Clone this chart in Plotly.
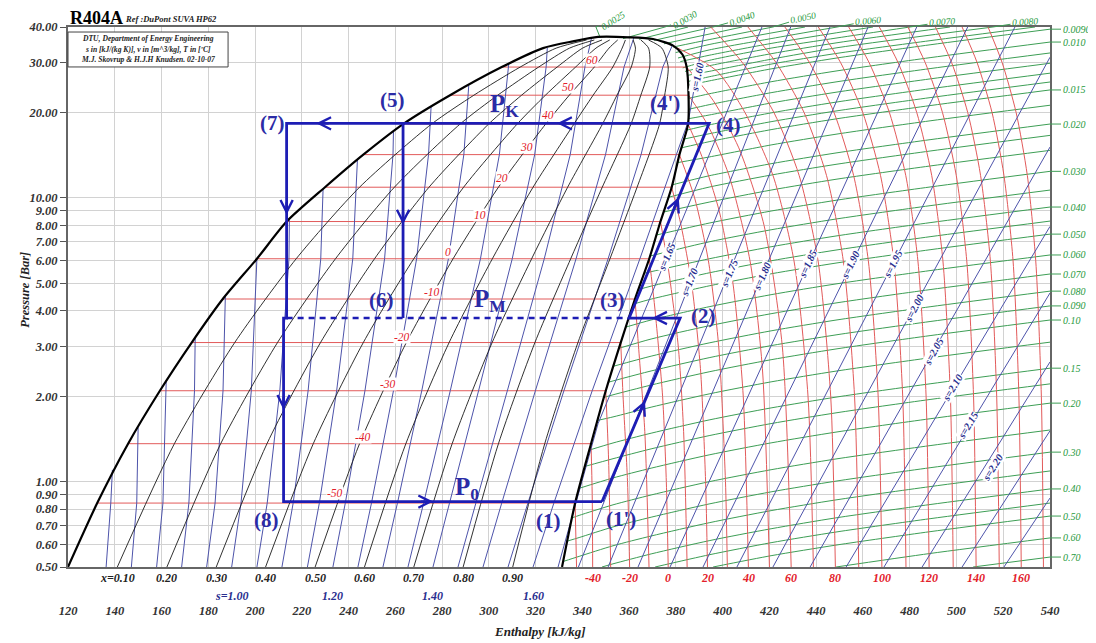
import numpy as np
import plotly.graph_objects as go

SERIF = "Liberation Serif, Times New Roman, serif"

# ---------------- saturation dome ----------------
SAT_T = [-61, -50, -40, -30, -20, -10, 0, 10, 20, 30, 40, 50, 60]
SAT_P = [0.50, 0.84, 1.36, 2.09, 3.09, 4.40, 6.10, 8.25, 10.9, 14.2, 18.2, 23.0, 28.9]
SAT_HL = [120.0, 132.5, 145.7, 159.3, 172.9, 186.2, 200.8, 213.5, 229.9, 246.3, 263.3, 283.4, 305.5]
SAT_HV = [331.3, 336.9, 343.7, 350.0, 356.4, 362.5, 368.6, 373.4, 378.2, 381.5, 385.2, 385.4, 384.6]
DOME_TOP_H = [323.2, 336.0, 346.7, 360.0, 370.2, 378.8, 382.8]
DOME_TOP_P = [33.7, 35.6, 36.9, 36.8, 36.3, 34.4, 32.0]

# ---------------- constant quality lines x = 0.1 ... 0.9 ----------------
Q_P = [0.5, 1.36, 3.09, 6.10, 10.9, 18.2, 23.0, 28.9, 33.7, 36.0]
Q_LABELS = ["x=0.10", "0.20", "0.30", "0.40", "0.50", "0.60", "0.70", "0.80", "0.90"]
Q_H = [
    [141.1, 165.5, 191.3, 217.6, 244.7, 275.5, 293.6, 313.4, 328.8, 341.8],
    [162.3, 185.3, 209.6, 234.4, 259.6, 287.7, 303.8, 321.3, 334.5, 345.1],
    [183.4, 205.1, 228.0, 251.1, 274.4, 299.9, 314.0, 329.2, 340.1, 348.4],
    [204.5, 224.9, 246.3, 267.9, 289.2, 312.1, 324.2, 337.1, 345.8, 351.7],
    [225.7, 244.7, 264.7, 284.7, 304.1, 324.3, 334.4, 345.1, 351.4, 355.1],
    [246.8, 264.5, 283.0, 301.5, 318.9, 336.4, 344.6, 353.0, 357.0, 358.4],
    [267.9, 284.3, 301.4, 318.3, 333.7, 348.6, 354.8, 360.9, 362.7, 361.7],
    [289.0, 304.1, 319.7, 335.0, 348.5, 360.8, 365.0, 368.8, 368.3, 365.0],
    [310.2, 323.9, 338.1, 351.8, 363.4, 373.0, 375.2, 376.7, 374.0, 368.3],
]

# ---------------- isotherms in the superheated region ----------------
SH_T = [-50, -40, -30, -20, -10, 0, 10, 20, 30, 40, 50, 60, 70, 80, 90, 100, 110, 120, 130, 140, 150, 160, 170]
SH_H = [
    [336.9, 337.5],
    [343.7, 344.2, 344.4],
    [350.0, 351.2, 352.1],
    [356.4, 357.4, 359.3, 360.2],
    [362.5, 364.0, 366.7, 368.5],
    [368.6, 371.1, 374.3, 375.9, 376.7],
    [373.4, 376.3, 381.0, 383.3, 384.8],
    [378.2, 382.2, 386.7, 390.5, 392.7, 393.5],
    [381.5, 388.0, 393.9, 398.3, 401.2, 402.0],
    [385.2, 391.1, 398.5, 404.4, 408.8, 411.0],
    [385.4, 393.7, 402.7, 411.7, 417.0, 420.0],
    [384.6, 396.0, 406.9, 417.7, 425.5, 429.3],
    [380.5, 397.5, 409.5, 421.5, 430.5, 436.5, 438.8],
    [394.9, 408.4, 421.9, 432.7, 440.8, 446.2, 448.2],
    [410.8, 422.8, 434.8, 444.4, 451.6, 456.4, 458.2],
    [426.6, 437.1, 447.6, 456.0, 462.3, 466.5, 468.1],
    [440.9, 450.4, 459.9, 467.5, 473.2, 477.0, 478.4],
    [453.9, 462.6, 471.3, 478.3, 483.5, 487.0, 488.3],
    [467.0, 475.0, 483.0, 489.4, 494.2, 497.4, 498.6],
    [479.2, 486.6, 494.0, 499.9, 504.4, 507.3, 508.4],
    [491.0, 497.9, 504.8, 510.3, 514.5, 517.2, 518.3],
    [502.4, 508.8, 515.2, 520.3, 524.2, 526.7, 527.7],
    [513.5, 519.5, 525.5, 530.3, 533.9, 536.3, 537.2],
]
SH_P = [
    [0.84, 0.5],
    [1.36, 0.9, 0.5],
    [2.09, 1.2, 0.5],
    [3.09, 2.0, 1.0, 0.5],
    [4.40, 3.0, 1.5, 0.5],
    [6.10, 4.0, 2.0, 1.0, 0.5],
    [8.25, 6.0, 3.0, 1.5, 0.5],
    [10.9, 8.0, 5.0, 2.5, 1.0, 0.5],
    [14.2, 10.0, 6.0, 3.0, 1.0, 0.5],
    [18.2, 14.0, 9.0, 5.0, 2.0, 0.5],
    [23.0, 18.0, 12.0, 6.0, 2.5, 0.5],
    [28.9, 22.0, 15.0, 8.0, 3.0, 0.5],
    [33.8, 28.0, 20.0, 12.0, 6.0, 2.0, 0.5],
] + [[40, 30, 20, 12, 6, 2, 0.5]] * 10

T_LBL = ["-50", "-40", "-30", "-20", "-10", "0", "10", "20", "30", "40", "50", "60"]
T_LBL_H = [234.2, 246.2, 256.9, 262.9, 275.7, 282.5, 296.2, 305.6, 316.3, 325.3, 333.9, 344.1]
T_LBL_P = [0.911, 1.436, 2.21, 3.23, 4.66, 6.44, 8.70, 11.74, 15.1, 19.6, 24.6, 30.6]
T_AXIS = [-40, -20, 0, 20, 40, 60, 80, 100, 120, 140, 160]

# ---------------- isentropes ----------------
S2P_S = [0.75, 0.80, 0.85, 0.90, 0.95, 1.00, 1.05, 1.10, 1.15, 1.20, 1.25, 1.30, 1.35, 1.40, 1.45, 1.50, 1.55, 1.60, 1.65]
S2P_H = [
    [136.3, 138.3, 139.0],
    [147.1, 149.4, 150.0],
    [157.9, 160.6, 162.0],
    [168.6, 171.7, 174.1, 174.4],
    [179.3, 182.9, 186.3, 187.3],
    [190.0, 194.0, 198.4, 200.8],
    [200.8, 205.2, 210.6, 214.5, 214.7],
    [211.5, 216.3, 222.7, 228.1, 229.1],
    [222.4, 227.5, 234.9, 241.8, 243.8],
    [233.3, 238.6, 247.0, 255.4, 259.0, 259.2],
    [244.0, 249.8, 259.2, 269.1, 274.2, 275.3],
    [254.7, 260.9, 271.3, 282.7, 289.3, 291.4],
    [265.4, 272.1, 283.5, 296.4, 304.5, 308.5],
    [276.1, 283.2, 295.6, 310.0, 319.6, 324.5, 325.0],
    [286.8, 294.4, 307.8, 323.7, 334.8, 341.1, 344.0],
    [297.5, 305.5, 319.9, 337.3, 349.9, 357.8, 362.0],
    [308.2, 316.7, 332.1, 351.0, 365.1, 374.4, 378.5],
    [318.9, 327.8, 344.2, 364.6, 380.2, 385.3, 392.5],
    [329.6, 346.7, 416.8],
]
S2P_P = [
    [0.5, 0.84, 1.10],
    [0.5, 0.84, 1.55],
    [0.5, 0.84, 2.25],
    [0.5, 0.84, 2.09, 3.22],
    [0.5, 0.84, 2.09, 4.50],
    [0.5, 0.84, 2.09, 6.10],
    [0.5, 0.84, 2.09, 6.10, 8.40],
    [0.5, 0.84, 2.09, 6.10, 10.75],
    [0.5, 0.84, 2.09, 6.10, 13.7],
    [0.5, 0.84, 2.09, 6.10, 14.2, 17.2],
    [0.5, 0.84, 2.09, 6.10, 14.2, 21.0],
    [0.5, 0.84, 2.09, 6.10, 14.2, 24.9],
    [0.5, 0.84, 2.09, 6.10, 14.2, 29.6],
    [0.5, 0.84, 2.09, 6.10, 14.2, 28.9, 33.8],
    [0.5, 0.84, 2.09, 6.10, 14.2, 28.9, 36.8],
    [0.5, 0.84, 2.09, 6.10, 14.2, 28.9, 36.6],
    [0.5, 0.84, 2.09, 6.10, 14.2, 28.9, 34.5],
    [0.5, 0.84, 2.09, 6.10, 14.2, 18.6, 40.0],
    [0.5, 1.6, 40.0],
]
SSH_S = [1.70, 1.75, 1.80, 1.85, 1.90, 1.95, 2.00, 2.05, 2.10, 2.15, 2.20, 2.25, 2.30]
SSH_H0 = [338.3, 351.0, 363.8, 377.5, 391.6, 406.1, 421.5, 437.4, 452.8, 469.0, 485.3, 502.4, 520.3]
SSH_H1 = [429.1, 445.9, 462.2, 483.0, 504.8, 525.0, 540.0, 540.0, 540.0, 540.0, 540.0, 540.0, 540.0]
SSH_P1 = [40.0, 40.0, 40.0, 40.0, 40.0, 40.0, 31.3, 15.1, 7.93, 4.62, 2.64, 1.51, 0.875]

S_AXIS_TXT = ["s=1.00", "1.20", "1.40", "1.60"]
S_AXIS_S = [1.00, 1.20, 1.40, 1.60]
S_LBL = ["s=1.60", "s=1.65", "s=1.70", "s=1.75", "s=1.80", "s=1.85", "s=1.90",
         "s=1.95", "s=2.00", "s=2.05", "s=2.10", "s=2.15", "s=2.20"]
S_LBL_H = [389.0, 376.2, 385.6, 402.7, 416.8, 436.5, 454.9, 472.9, 481.8, 490.0, 498.5, 504.9, 515.6]
S_LBL_P = [26.65, 6.14, 5.05, 5.43, 5.30, 5.80, 5.80, 5.80, 4.09, 2.86, 2.14, 1.58, 1.12]
S_LBL_ANG = [-78, -67, -68, -67, -66, -65, -64, -63, -62, -61, -59, -59, -58]

# ---------------- isochores ----------------
V_TXT = ["0.70", "0.60", "0.50", "", "0.40", "", "0.30", "", "0.20", "", "0.15", "", "0.10",
         "0.090", "0.080", "0.070", "0.060", "0.050", "", "0.040", "", "0.030", "", "",
         "0.020", "", "0.015", "", "", "", "", "0.010", "0.0090", "",
         "0.0080", "", "0.0070", "", "0.0060", "", "0.0050", "", "0.0040", "", "0.0030", "0.0025"]
V_H = [
    [507.1, 540.0],
    [448.5, 488.7, 540.0],
    [395.9, 420.7, 448.9, 488.7, 540.0],
    [371.1, 394.2, 420.7, 448.9, 488.7, 540.0],
    [348.4, 353.1, 369.4, 394.2, 420.7, 448.9, 488.7, 540.0],
    [331.8, 338.6, 353.1, 369.4, 394.2, 420.7, 448.9, 488.7, 540.0],
    [333.6, 338.6, 353.1, 369.4, 394.2, 420.7, 448.9, 488.7, 540.0],
    [335.6, 338.6, 353.1, 369.4, 394.2, 420.7, 448.9, 488.7, 540.0],
    [338.5, 353.1, 369.4, 394.2, 420.7, 448.9, 488.7, 540.0],
    [340.9, 353.1, 369.4, 394.2, 420.7, 448.9, 488.7, 540.0],
    [342.8, 353.1, 369.4, 394.2, 420.7, 448.9, 488.7, 540.0],
    [346.1, 353.1, 369.4, 394.2, 420.7, 448.9, 488.7, 540.0],
    [349.2, 353.1, 369.4, 394.2, 420.7, 448.9, 488.7, 540.0],
    [351.1, 369.4, 394.2, 420.7, 448.9, 488.7, 540.0],
    [353.3, 369.4, 394.2, 420.7, 448.9, 488.7, 540.0],
    [355.7, 369.4, 394.2, 420.7, 448.9, 488.7, 540.0],
    [358.4, 369.4, 394.2, 420.7, 448.9, 488.7, 540.0],
    [361.7, 369.4, 394.2, 420.7, 448.9, 488.7, 540.0],
    [363.9, 369.4, 394.2, 420.7, 448.9, 488.7, 540.0],
    [366.3, 394.2, 420.7, 448.9, 488.7, 540.0],
    [369.1, 394.2, 420.7, 448.9, 488.7, 540.0],
    [371.8, 394.2, 420.7, 448.9, 488.7, 540.0],
    [374.7, 394.2, 420.7, 448.9, 488.7, 540.0],
    [376.7, 394.2, 420.7, 448.9, 488.7, 540.0],
    [378.2, 394.2, 420.7, 448.9, 488.7, 540.0],
    [380.5, 394.2, 420.7, 448.9, 488.7, 540.0],
    [382.3, 394.2, 420.7, 448.9, 488.7, 540.0],
    [383.3, 394.2, 420.7, 448.9, 488.7, 540.0],
    [384.4, 394.2, 420.7, 448.9, 488.7, 540.0],
    [385.3, 394.2, 420.7, 448.9, 488.7, 540.0],
    [385.3, 394.2, 420.7, 448.9, 488.7, 540.0],
    [385.3, 394.2, 420.7, 448.9, 488.7, 540.0],
    [385.0, 394.2, 420.7, 448.9, 488.7, 540.0],
    [385.1, 394.2, 420.7, 448.9, 488.7, 533.6],
    [384.8, 394.2, 420.7, 448.9, 515.6],
    [383.9, 394.2, 420.7, 448.9, 497.2],
    [382.9, 394.2, 420.7, 448.9, 480.1],
    [381.9, 394.2, 420.7, 464.3],
    [380.9, 394.2, 420.7, 448.9],
    [379.9, 394.2, 435.2],
    [378.8, 394.2, 421.5],
    [374.9, 408.3],
    [370.7, 395.9],
    [364.2, 385.2],
    [357.4, 375.3],
    [347.5, 345.8],
]
V_P = [
    [0.5, 0.542],
    [0.5, 0.558, 0.633],
    [0.5, 0.548, 0.598, 0.666, 0.756],
    [0.5, 0.552, 0.609, 0.665, 0.740, 0.840],
    [0.5, 0.513, 0.556, 0.619, 0.682, 0.746, 0.830, 0.942],
    [0.523, 0.545, 0.594, 0.643, 0.716, 0.790, 0.863, 0.960, 1.09],
    [0.617, 0.635, 0.692, 0.749, 0.834, 0.920, 1.005, 1.119, 1.27],
    [0.745, 0.760, 0.828, 0.897, 0.999, 1.101, 1.203, 1.339, 1.52],
    [0.946, 1.030, 1.115, 1.242, 1.369, 1.496, 1.665, 1.89],
    [1.13, 1.204, 1.304, 1.452, 1.601, 1.749, 1.947, 2.21],
    [1.29, 1.368, 1.481, 1.649, 1.818, 1.987, 2.211, 2.51],
    [1.64, 1.690, 1.829, 2.037, 2.246, 2.454, 2.731, 3.10],
    [1.98, 2.022, 2.189, 2.437, 2.688, 2.937, 3.269, 3.71],
    [2.24, 2.454, 2.733, 3.014, 3.293, 3.665, 4.16],
    [2.55, 2.767, 3.081, 3.398, 3.713, 4.132, 4.69],
    [2.95, 3.180, 3.541, 3.905, 4.267, 4.749, 5.39],
    [3.50, 3.711, 4.133, 4.557, 4.979, 5.541, 6.29],
    [4.22, 4.396, 4.895, 5.398, 5.897, 6.563, 7.45],
    [4.75, 4.885, 5.440, 5.999, 6.554, 7.295, 8.28],
    [5.42, 6.097, 6.723, 7.346, 8.176, 9.28],
    [6.24, 6.997, 7.716, 8.431, 9.383, 10.65],
    [7.40, 8.147, 8.984, 9.816, 10.92, 12.4],
    [8.91, 9.658, 10.65, 11.64, 12.95, 14.7],
    [10.04, 10.91, 12.03, 13.14, 14.62, 16.6],
    [11.1, 11.96, 13.19, 14.41, 16.03, 18.2],
    [13.3, 13.93, 15.36, 16.78, 18.68, 21.2],
    [15.0, 15.77, 17.39, 19.0, 21.14, 24.0],
    [16.1, 16.82, 18.55, 20.26, 22.55, 25.6],
    [17.3, 18.07, 19.92, 21.77, 24.23, 27.5],
    [19.0, 19.58, 21.59, 23.59, 26.25, 29.8],
    [20.5, 21.29, 23.47, 25.65, 28.54, 32.4],
    [22.4, 23.26, 25.65, 28.02, 31.19, 35.4],
    [24.9, 25.82, 28.47, 31.11, 34.62, 39.3],
    [25.7, 26.7, 29.6, 32.3, 35.8, 40.0],
    [27.0, 27.9, 30.8, 33.8, 40.0],
    [27.9, 29.2, 32.2, 35.2, 40.0],
    [28.7, 30.5, 33.7, 36.6, 40.0],
    [30.2, 31.8, 35.0, 40.0],
    [31.1, 33.2, 36.4, 40.0],
    [32.5, 34.7, 40.0],
    [34.0, 36.1, 40.0],
    [34.9, 40.0],
    [35.9, 40.0],
    [36.2, 40.0],
    [36.4, 40.0],
    [36.9, 40.0],
]
# label offsets for isochores crossing the top edge (pixels, angle)
TOPLBL_OFF = {"0.0080": (32, -5, -3), "0.0070": (32, -5, -3), "0.0060": (31, -6, -5),
              "0.0050": (30, -9, -12), "0.0040": (29, -8, -20), "0.0030": (20, -7, -30),
              "0.0025": (17, -6, -33)}

# ---------------- refrigeration cycle ----------------
LOOP_H = [348.4, 381.8, 360.0, 394.2, 213.5, 213.5, 212.2, 212.2, 348.4]
LOOP_P = [0.85, 3.77, 3.77, 18.3, 18.3, 3.77, 3.77, 0.85, 0.85]
PM_H = [213.5, 360.0]
PM_P = [3.77, 3.77]
L56_H = [263.3, 263.3]
L56_P = [18.3, 3.77]
PT_TXT = ["(1)", "(1')", "(2)", "(3)", "(4)", "(4')", "(5)", "(6)", "(7)", "(8)"]
PT_H = [325.3, 356.5, 391.6, 352.7, 402.3, 375.3, 258.6, 253.9, 207.3, 204.7]
PT_P = [0.726, 0.738, 3.83, 4.36, 18.0, 21.6, 22.1, 4.36, 18.3, 0.732]
PLVL_TXT = ["P<sub>K</sub>", "P<sub>M</sub>", "P<sub>0</sub>"]
PLVL_H = [306.9, 300.5, 290.6]
PLVL_P = [21.2, 4.36, 0.949]

Y_TICKS = [0.5, 0.6, 0.7, 0.8, 0.9, 1, 2, 3, 4, 5, 6, 7, 8, 9, 10, 20, 30, 40]
X_TICKS = list(range(120, 541, 20))

# ---------------- colours ----------------
RED = "#e25a5a"
RED_T = "#e3202a"
BLUE = "#4d53aa"
BLUE_T = "#2a2f8f"
GREEN = "#3d9e55"
GREEN_T = "#1f9a3e"
CYC = "#1d1db4"
CYC_T = "#2b2ba6"

fig = go.Figure()


def add_line(h, p, color, width, spline=False, dash="solid"):
    line = dict(color=color, width=width, dash=dash)
    if spline:
        line.update(shape="spline", smoothing=0.7)
    fig.add_trace(go.Scatter(x=h, y=p, mode="lines", line=line,
                             hoverinfo="skip", showlegend=False))


# isochores (green)
for h, p in zip(V_H, V_P):
    add_line(h, p, GREEN, 1.0, spline=len(h) > 2)

# isotherms (red): horizontal in two-phase, curved in superheated region
for i, t in enumerate(SH_T):
    if t in SAT_T:
        j = SAT_T.index(t)
        add_line([SAT_HL[j], SAT_HV[j]], [SAT_P[j], SAT_P[j]], RED, 1.0)
    add_line(SH_H[i], SH_P[i], RED, 1.0, spline=len(SH_H[i]) > 2)

# isentropes (blue)
for h, p in zip(S2P_H, S2P_P):
    add_line(h, p, BLUE, 1.0, spline=False)
for h0, h1, p1 in zip(SSH_H0, SSH_H1, SSH_P1):
    add_line([h0, h1], [0.5, p1], BLUE, 1.0)

# quality lines (black)
for hq in Q_H:
    add_line(hq, Q_P, "#1a1a1a", 0.9, spline=True)

# saturation dome
dome_h = SAT_HL + DOME_TOP_H + SAT_HV[::-1]
dome_p = SAT_P + DOME_TOP_P + SAT_P[::-1]
add_line(dome_h, dome_p, "black", 2.2, spline=True)

# cycle
add_line(PM_H, PM_P, CYC, 2.6, dash="6px,5px")
add_line(LOOP_H, LOOP_P, CYC, 2.8)
add_line(L56_H, L56_P, CYC, 2.8)

lg = np.log10
ann = []


def font(size, color, bold=True, italic=True):
    return dict(family=SERIF, size=size, color=color,
                weight="bold" if bold else "normal",
                style="italic" if italic else "normal")


def text_at(h, p, txt, f, angle=0, bg=None, xanchor="center", yanchor="middle"):
    d = dict(x=h, y=lg(p), xref="x", yref="y", text=txt, showarrow=False,
             font=f, textangle=angle, xanchor=xanchor, yanchor=yanchor, borderpad=0)
    if bg:
        d["bgcolor"] = bg
    ann.append(d)


# temperature labels inside the dome
for t, h, p in zip(T_LBL, T_LBL_H, T_LBL_P):
    text_at(h, p, t, font(11.5, RED_T, bold=False), bg="white")

# isentrope labels
for t, h, p, a in zip(S_LBL, S_LBL_H, S_LBL_P, S_LBL_ANG):
    text_at(h, p, t, font(10.5, BLUE_T), angle=a, bg="white")

# isochore labels (right edge and top edge)
for t, h, p in zip(V_TXT, V_H, V_P):
    if not t:
        continue
    if h[-1] >= 539.9:
        ann.append(dict(x=540, y=lg(p[-1]), xref="x", yref="y", text=t, showarrow=True,
                        arrowhead=0, arrowwidth=1, arrowcolor=GREEN, ax=11, ay=0,
                        xanchor="left", yanchor="middle", font=font(10, GREEN_T, bold=False)))
    else:
        dx, dy, a = TOPLBL_OFF[t]
        ann.append(dict(x=h[-1], y=lg(p[-1]), xref="x", yref="y", text=t, showarrow=True,
                        arrowhead=0, arrowwidth=1, arrowcolor=GREEN, ax=dx, ay=dy,
                        textangle=a, font=font(9.5, GREEN_T, bold=False)))

# bottom scale rows
for t, hq in zip(Q_LABELS, Q_H):
    ann.append(dict(x=hq[0], y=-0.021, xref="x", yref="paper", text=t, showarrow=False,
                    font=font(12, "#222"), yanchor="middle"))
for t, s in zip(S_AXIS_TXT, S_AXIS_S):
    hb = S2P_H[S2P_S.index(s)][0]
    ann.append(dict(x=hb, y=-0.054, xref="x", yref="paper", text=t, showarrow=False,
                    font=font(12, BLUE_T), yanchor="middle"))
for t in T_AXIS:
    hb = SH_H[SH_T.index(t)][-1]
    ann.append(dict(x=hb, y=-0.021, xref="x", yref="paper", text=str(t), showarrow=False,
                    font=font(12, RED_T), yanchor="middle"))

# cycle point labels
for t, h, p in zip(PT_TXT, PT_H, PT_P):
    text_at(h, p, t, font(21, CYC_T, italic=False))
for t, h, p in zip(PLVL_TXT, PLVL_H, PLVL_P):
    text_at(h, p, t, font(25, CYC_T, italic=False))

# flow direction chevrons along the cycle
PXKJ = 982 / 420.0
PXDEC = 540 / (lg(40) - lg(0.5))


def chevron(h0, p0, h1, p1, t):
    h = h0 + t * (h1 - h0)
    lp = lg(p0) + t * (lg(p1) - lg(p0))
    dx = (h1 - h0) * PXKJ
    dy = (lg(p1) - lg(p0)) * PXDEC
    n = np.hypot(dx, dy)
    ann.append(dict(x=h, y=lp, xref="x", yref="y", text="", showarrow=True,
                    arrowhead=5, arrowsize=1.0, arrowwidth=2.4, arrowcolor=CYC,
                    ax=-14 * dx / n, ay=14 * dy / n))


chevron(212.2, 0.85, 348.4, 0.85, 0.47)
chevron(348.4, 0.85, 381.8, 3.77, 0.55)
chevron(381.8, 3.77, 360.0, 3.77, 0.55)
chevron(360.0, 3.77, 394.2, 18.3, 0.62)
chevron(394.2, 18.3, 213.5, 18.3, 0.36)
chevron(394.2, 18.3, 213.5, 18.3, 0.93)
chevron(263.3, 18.3, 263.3, 3.77, 0.52)
chevron(213.5, 18.3, 213.5, 3.77, 0.47)
chevron(212.2, 3.77, 212.2, 0.85, 0.50)

# header texts
ann.append(dict(x=0, y=1.017, xref="paper", yref="paper", text="R404A", showarrow=False,
                xanchor="left", yanchor="middle", font=font(18, "black", italic=False)))
ann.append(dict(x=0.056, y=1.015, xref="paper", yref="paper", text="Ref :DuPont SUVA HP62",
                showarrow=False, xanchor="left", yanchor="middle", font=font(8.5, "#222")))
for t, y in zip(["DTU, Department of Energy Engineering",
                 "s in [kJ/(kg K)], v in [m^3/kg], T in [\u00baC]",
                 "M.J. Skovrup & H.J.H Knudsen. 02-10-07"], [0.978, 0.959, 0.9405]):
    ann.append(dict(x=0.0815, y=y, xref="paper", yref="paper", text=t, showarrow=False,
                    xanchor="center", yanchor="middle", font=font(7.6, "#222")))
ann.append(dict(x=0.4807, y=-0.120, xref="paper", yref="paper", text="Enthalpy [kJ/kg]",
                showarrow=False, yanchor="middle", font=font(13, "#222")))
ann.append(dict(x=-0.044, y=0.513, xref="paper", yref="paper", text="Pressure [Bar]",
                showarrow=False, textangle=-90, xanchor="center", yanchor="middle",
                font=font(12.5, "#222")))

axis_font = font(12.5, "#333")
# the page body adds an 8 px offset, so the figure is 8 px smaller on each axis
fig.update_layout(
    width=1088, height=635,
    margin=dict(l=60, r=46, t=19, b=76, autoexpand=False),
    paper_bgcolor="white", plot_bgcolor="white", showlegend=False,
    xaxis=dict(range=[120, 540], tickvals=X_TICKS, ticktext=[str(v) for v in X_TICKS],
               showgrid=True, gridcolor="#d2d2d2", gridwidth=1, zeroline=False,
               showline=True, linecolor="#666", linewidth=2, mirror=True, ticks="",
               tickfont=axis_font, ticklabelstandoff=31, automargin=False),
    yaxis=dict(type="log", range=[lg(0.5), lg(40)], tickvals=Y_TICKS,
               ticktext=[f"{v:.2f}" for v in Y_TICKS], ticks="outside", ticklen=6,
               tickcolor="#555", tickwidth=1.2, showgrid=True, gridcolor="#d2d2d2",
               zeroline=False, showline=True, linecolor="#666", linewidth=2, mirror=True,
               tickfont=axis_font, automargin=False),
    shapes=[dict(type="rect", xref="paper", yref="paper", x0=0.0, x1=0.163, y0=0.926,
                 y1=0.9907, fillcolor="white", line=dict(color="#444", width=1), layer="above")],
    annotations=ann,
)

fig.write_html("out.html")
